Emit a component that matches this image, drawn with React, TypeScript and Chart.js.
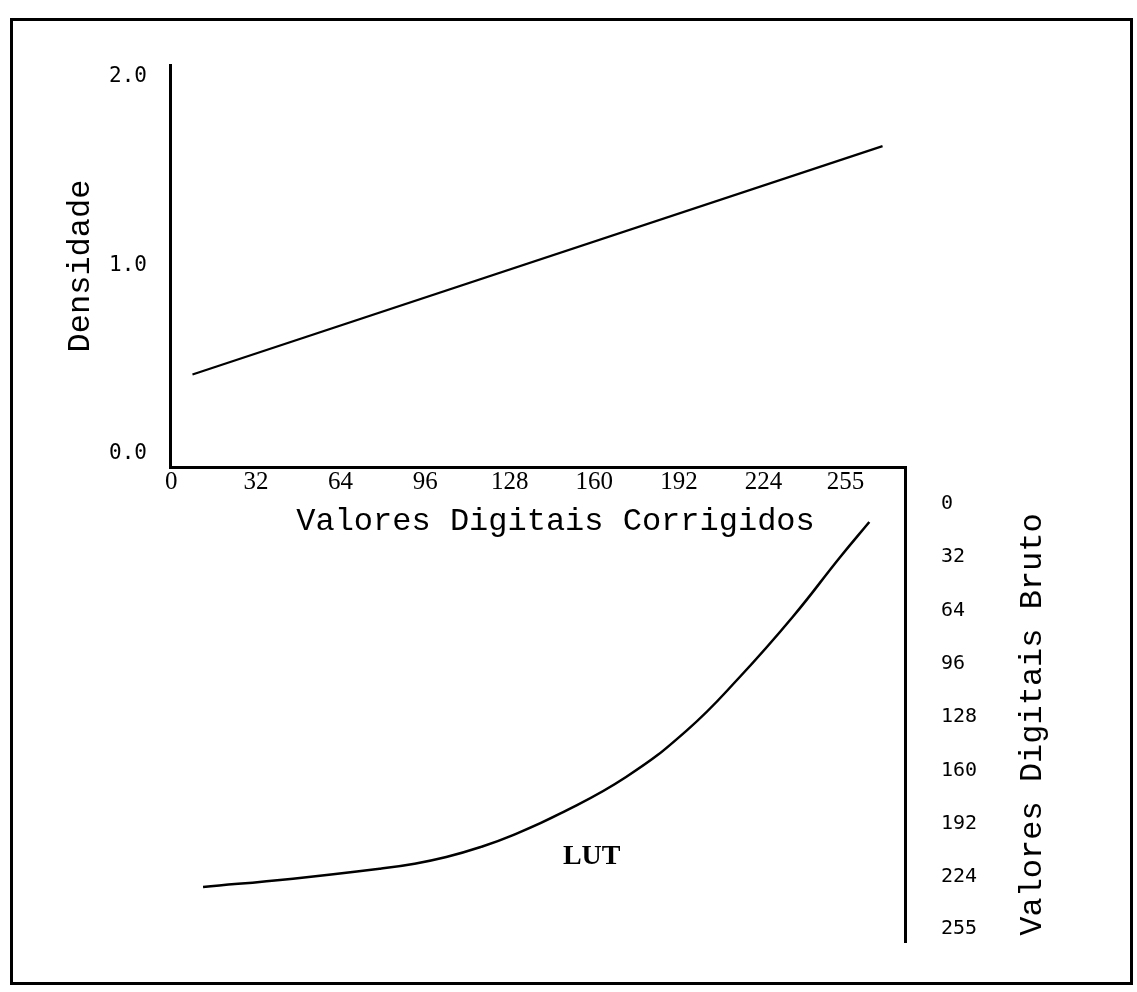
import React, { useEffect, useRef } from 'react';
import { Chart, registerables } from 'chart.js';

Chart.register(...registerables);

// ---- data ----
const xTicks = [0, 32, 64, 96, 128, 160, 192, 224, 255];
const densityTicks = [0, 1, 2];
const densityTickLabels = ['0.0', '1.0', '2.0'];
const brutoTicks = [0, 32, 64, 96, 128, 160, 192, 224, 255];

// Densidade vs Valores Digitais Corrigidos (straight line)
const densityX = [8, 269];
const densityY = [0.42, 1.63];

// LUT curve: Valores Digitais Corrigidos (x) vs Valores Digitais Bruto (y)
const lutX = [12, 46, 79, 92, 104, 117, 129, 147, 172, 195, 215, 235, 253, 264];
const lutY = [230, 225, 219, 216, 212, 206, 199, 186, 164, 136, 104, 68, 32, 11];

const lutLabel = { text: 'LUT', x: 159, y: 212 };

const xTitle = 'Valores Digitais Corrigidos';
const densityTitle = 'Densidade';
const brutoTitle = 'Valores Digitais Bruto';

const xRange = [-0.5, 277.5];
const densityRange = [-0.07, 2.06];
const brutoRange = [-22, 263];

const MONO = '"Liberation Mono", "DejaVu Sans Mono", monospace';
const TICKMONO = '"DejaVu Sans Mono", "Liberation Mono", monospace';
const SERIF = '"Liberation Serif", "DejaVu Serif", serif';

const annotate = {
  id: 'annotate',
  afterDraw(chart: any) {
    const { ctx } = chart;
    const yB = chart.scales.yB;
    const yD = chart.scales.yD;
    const x = chart.scales.x;

    // x-axis title, below the tick labels
    ctx.save();
    ctx.fillStyle = '#000';
    ctx.font = `32px ${MONO}`;
    ctx.textAlign = 'center';
    ctx.textBaseline = 'middle';
    ctx.fillText(xTitle, (x.left + x.right) / 2 + 18, yD.bottom + 55);
    ctx.restore();

    // right-hand axis title, reading bottom to top
    ctx.save();
    ctx.fillStyle = '#000';
    ctx.font = `32px ${MONO}`;
    ctx.textAlign = 'center';
    ctx.textBaseline = 'middle';
    ctx.translate(yB.left + 128, (yB.top + yB.bottom) / 2 + 20);
    ctx.rotate(-Math.PI / 2);
    ctx.fillText(brutoTitle, 0, 0);
    ctx.restore();

    // curve label
    ctx.save();
    ctx.fillStyle = '#000';
    ctx.font = `bold 28px ${SERIF}`;
    ctx.textAlign = 'center';
    ctx.textBaseline = 'middle';
    ctx.fillText(lutLabel.text, x.getPixelForValue(lutLabel.x), yB.getPixelForValue(lutLabel.y));
    ctx.restore();
  },
};

export default function App() {
  const ref = useRef<HTMLCanvasElement | null>(null);

  useEffect(() => {
    if (!ref.current) return;
    const chart = new Chart(ref.current, {
      type: 'line',
      data: {
        datasets: [
          {
            data: densityX.map((x, i) => ({ x, y: densityY[i] })),
            xAxisID: 'x',
            yAxisID: 'yD',
            borderColor: '#000',
            borderWidth: 2.2,
            pointRadius: 0,
            tension: 0,
            fill: false,
          },
          {
            data: lutX.map((x, i) => ({ x, y: lutY[i] })),
            xAxisID: 'x',
            yAxisID: 'yB',
            borderColor: '#000',
            borderWidth: 2.5,
            pointRadius: 0,
            tension: 0.45,
            fill: false,
          },
        ],
      },
      options: {
        animation: false,
        responsive: false,
        events: [],
        layout: { padding: { top: 65, bottom: 50, left: 0, right: 0 } },
        plugins: {
          legend: { display: false },
          tooltip: { enabled: false },
          title: { display: false },
        },
        scales: {
          x: {
            type: 'linear',
            axis: 'x',
            min: xRange[0],
            max: xRange[1],
            bounds: 'data',
            position: { yD: densityRange[0] } as any,
            grid: { display: false, drawTicks: false },
            border: { display: true, color: '#000', width: 3 },
            afterBuildTicks: (s: any) => {
              s.ticks = xTicks.map((v) => ({ value: v }));
            },
            ticks: {
              autoSkip: false,
              maxRotation: 0,
              minRotation: 0,
              padding: 0,
              color: '#000',
              font: { family: SERIF, size: 25 },
              callback: (v: any) => String(v),
            },
            title: { display: false },
          },
          yD: {
            type: 'linear',
            axis: 'y',
            position: 'left',
            stack: 'left',
            stackWeight: 402,
            weight: 2,
            min: densityRange[0],
            max: densityRange[1],
            bounds: 'data',
            grid: { display: false, drawTicks: false },
            border: { display: true, color: '#000', width: 3 },
            afterBuildTicks: (s: any) => {
              s.ticks = densityTicks.map((v) => ({ value: v }));
            },
            afterFit: (s: any) => {
              s.width = 170;
            },
            ticks: {
              autoSkip: false,
              padding: 23,
              color: '#000',
              font: { family: TICKMONO, size: 21 },
              callback: (v: any) => {
                const i = densityTicks.indexOf(Number(v));
                return i >= 0 ? densityTickLabels[i] : '';
              },
            },
            title: {
              display: true,
              text: densityTitle,
              color: '#000',
              font: { family: MONO, size: 32 },
              padding: { top: 61, bottom: 0 },
            },
          },
          yL: {
            type: 'linear',
            axis: 'y',
            position: 'left',
            stack: 'left',
            stackWeight: 475,
            weight: 1,
            display: false,
            afterFit: (s: any) => {
              s.width = 170;
            },
          },
          yR: {
            type: 'linear',
            axis: 'y',
            position: 'right',
            stack: 'right',
            stackWeight: 402,
            weight: 1,
            display: false,
            afterFit: (s: any) => {
              s.width = 232;
            },
          },
          yB: {
            type: 'linear',
            axis: 'y',
            position: 'right',
            stack: 'right',
            stackWeight: 475,
            weight: 2,
            reverse: true,
            min: brutoRange[0],
            max: brutoRange[1],
            bounds: 'data',
            grid: { display: false, drawTicks: false },
            border: { display: true, color: '#000', width: 3 },
            afterBuildTicks: (s: any) => {
              s.ticks = brutoTicks.map((v) => ({ value: v }));
            },
            afterFit: (s: any) => {
              s.width = 232;
            },
            ticks: {
              autoSkip: false,
              padding: 36,
              color: '#000',
              font: { family: TICKMONO, size: 20 },
              callback: (v: any) => String(v),
            },
          },
        } as any,
      },
      plugins: [annotate],
    } as any);
    return () => chart.destroy();
  }, []);

  return (
    <div style={{ position: 'absolute', left: 0, top: 0, width: 1137, height: 992, background: '#fff' }}>
      <canvas
        ref={ref}
        width={1137}
        height={992}
        style={{ position: 'absolute', left: 0, top: 0, display: 'block' }}
      />
      <div
        style={{
          position: 'absolute',
          left: 10,
          top: 18,
          width: 1123,
          height: 967,
          border: '3px solid #000',
          boxSizing: 'border-box',
          pointerEvents: 'none',
        }}
      />
    </div>
  );
}
